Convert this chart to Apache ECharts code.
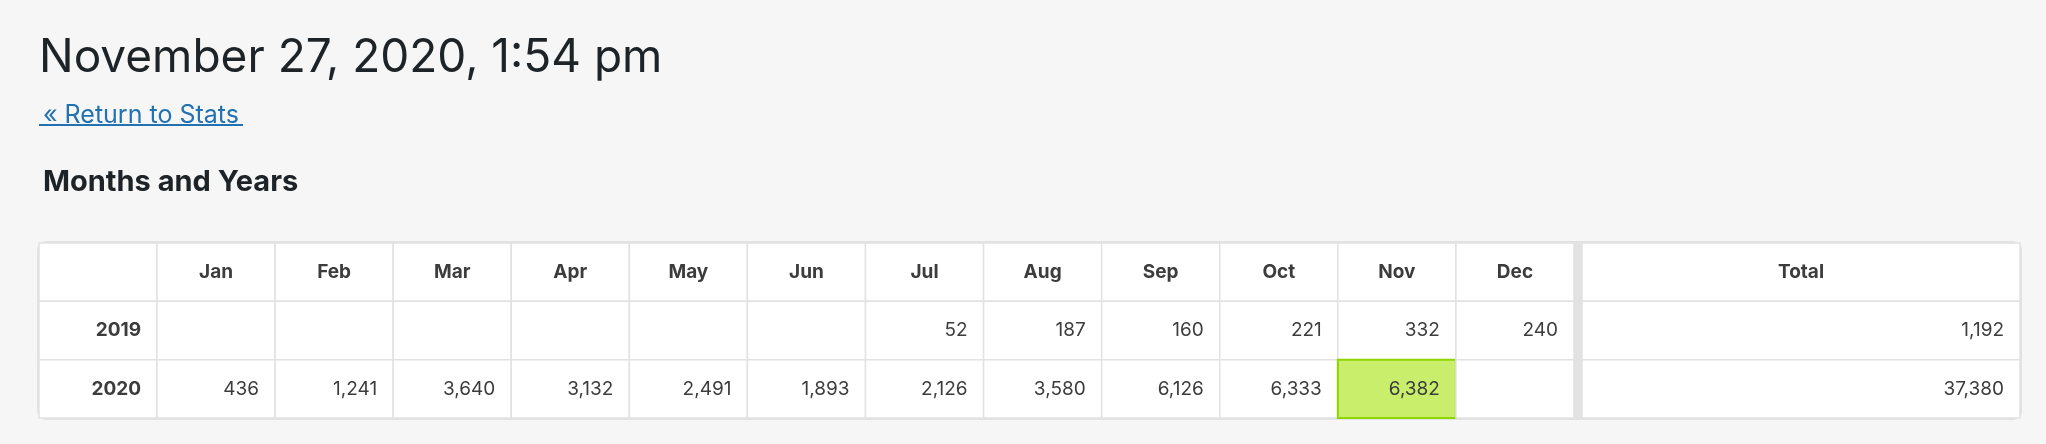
<!DOCTYPE html>
<html>
<head>
<meta charset="utf-8">
<script src="https://cdn.jsdelivr.net/npm/echarts@6/dist/echarts.min.js"></script>
<style>
html, body { margin: 0; padding: 0; background: #f6f6f6; }
#main { width: 2046px; height: 444px; }
</style>
</head>
<body>
<div id="main"></div>
<script>
var months = ['Jan', 'Feb', 'Mar', 'Apr', 'May', 'Jun', 'Jul', 'Aug', 'Sep', 'Oct', 'Nov', 'Dec'];
var years = ['2019', '2020'];
var views2019 = [null, null, null, null, null, null, 52, 187, 160, 221, 332, 240];
var views2020 = [436, 1241, 3640, 3132, 2491, 1893, 2126, 3580, 6126, 6333, 6382, null];
var totals = [1192, 37380];
var rows = ['head'].concat(years);
var highlight = { year: '2020', month: 'Nov' };

var myChart = echarts.init(document.getElementById('main'));
var font = 'Inter, "Noto Sans", sans-serif';
var fmt = function (v) { return v == null ? '' : v.toLocaleString('en-US'); };

// cells: [x, y, text, kind]
var labelCells = [[0, 0, '', 'head'], [0, 1, years[0], 'year'], [0, 2, years[1], 'year']];
var monthCells = [];
months.forEach(function (m, i) {
    monthCells.push([i, 0, m, 'head']);
    monthCells.push([i, 1, fmt(views2019[i]), 'val']);
    monthCells.push([i, 2, fmt(views2020[i]), (years[1] == highlight.year && m == highlight.month) ? 'hi' : 'val']);
});
var totalCells = [[0, 0, 'Total', 'head'], [0, 1, fmt(totals[0]), 'val'], [0, 2, fmt(totals[1]), 'val']];

function renderCell(params, api) {
    var c = api.coord([api.value(0), api.value(1)]);
    var s = api.size([1, 1]);
    var d = params.dataIndex;
    var item = cells[params.seriesIndex][d];
    var kind = item[3], text = item[2];
    var x = c[0] - s[0] / 2, y = c[1] - s[1] / 2;
    var hi = kind == 'hi';
    var head = kind == 'head';
    return {
        type: 'group',
        children: [{
            type: 'rect',
            shape: { x: x, y: y, width: s[0], height: s[1] },
            style: { fill: hi ? '#c9ee6b' : '#ffffff', stroke: hi ? '#8ed600' : '#e2e2e2', lineWidth: hi ? 2 : 1.5 }
        }, {
            type: 'text',
            style: {
                text: text,
                x: head ? c[0] : x + s[0] - 16,
                y: c[1],
                align: head ? 'center' : 'right',
                verticalAlign: 'middle',
                fontFamily: font,
                fontSize: 19,
                fontWeight: (head || kind == 'year') ? 'bold' : 'normal',
                fill: '#3c3c3c'
            }
        }]
    };
}

var tableTop = 243, tableHeight = 175;
var grids = [
    { left: 39, width: 118, top: tableTop, height: tableHeight },
    { left: 157, width: 1417, top: tableTop, height: tableHeight },
    { left: 1582, width: 438, top: tableTop, height: tableHeight }
];
var xCats = [[''], months, ['Total']];
var cells = [labelCells, monthCells, totalCells];

var option = {
    backgroundColor: '#f6f6f6',
    animation: false,
    title: [
        { text: 'November 27, 2020, 1:54 pm', left: 34, top: 30, textStyle: { fontFamily: font, fontSize: 46, fontWeight: 'normal', color: '#1d2327' } },
        { text: '« Return to Stats', left: 38, top: 98, textStyle: { fontFamily: font, fontSize: 25, fontWeight: 'normal', color: '#2271b1' } },
        { text: 'Months and Years', left: 38, top: 163, textStyle: { fontFamily: font, fontSize: 29, fontWeight: 'bold', color: '#1d2327' } }
    ],
    graphic: [
        { type: 'rect', shape: { x: 38, y: 242, width: 1983, height: 177, r: 8 }, style: { fill: '#ffffff', stroke: '#e2e2e2', lineWidth: 2 }, z: -1 },
        { type: 'rect', shape: { x: 1574, y: 243, width: 8, height: 175 }, style: { fill: '#e2e2e2' }, z: -1 },
        { type: 'line', shape: { x1: 39, y1: 125, x2: 243, y2: 125 }, style: { stroke: '#2271b1', lineWidth: 2 } }
    ],
    grid: grids,
    xAxis: grids.map(function (g, i) {
        return { type: 'category', gridIndex: i, data: xCats[i], show: false };
    }),
    yAxis: grids.map(function (g, i) {
        return { type: 'category', gridIndex: i, data: rows, inverse: true, show: false };
    }),
    series: cells.map(function (d, i) {
        return { type: 'custom', xAxisIndex: i, yAxisIndex: i, data: d, renderItem: renderCell };
    })
};
myChart.setOption(option);
window.addEventListener('resize', function () {
    myChart.resize();
});
</script>
</body>
</html>
